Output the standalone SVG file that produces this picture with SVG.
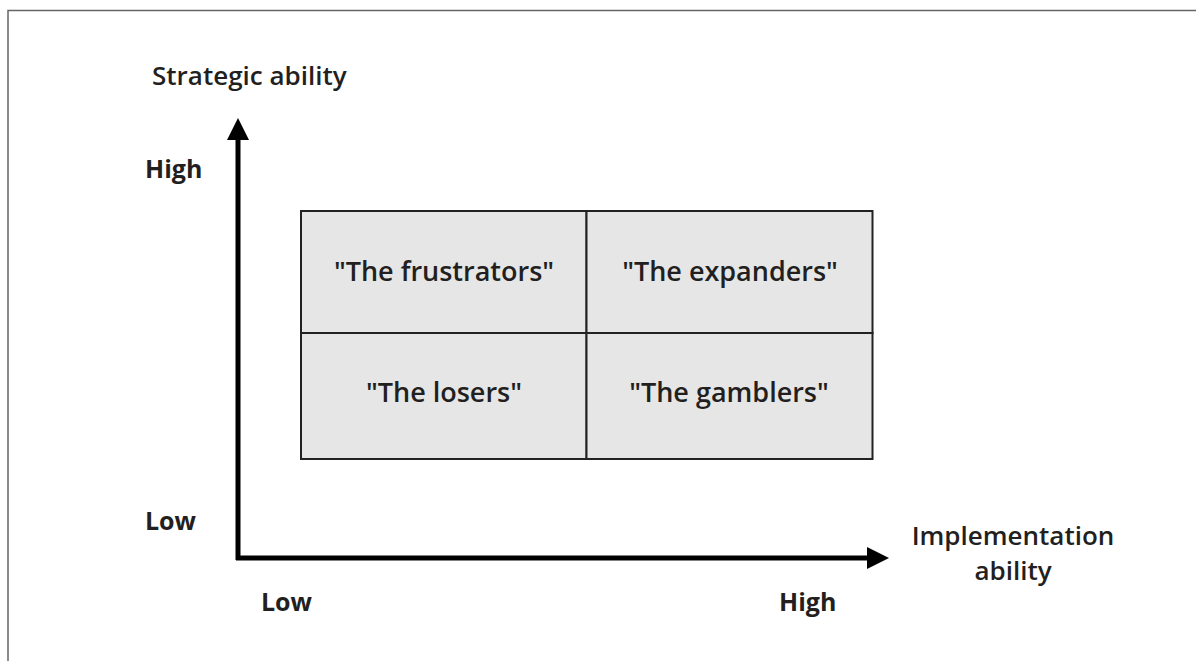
<svg xmlns="http://www.w3.org/2000/svg" width="1196" height="661" viewBox="0 0 1196 661">
<style>
text{font-family:"Open Sans","Noto Sans",sans-serif;fill:#231f20;}
.lbl{font-size:26px;font-weight:600;}
.bold{font-size:25px;font-weight:bold;}
.q{font-size:27px;font-weight:600;text-anchor:middle;}
.cell{fill:#e6e6e6;stroke:#222;stroke-width:2;}
.axis{stroke:#000;stroke-width:5;fill:none;}
</style>
<defs>
<marker id="ah" viewBox="0 0 22 22" refX="0" refY="11" markerWidth="22" markerHeight="22" markerUnits="userSpaceOnUse" orient="auto">
<path d="M0,0 L22,11 L0,22 Z" fill="#000"/>
</marker>
</defs>
<rect width="1196" height="661" fill="#fff"/>
<path d="M8,661 V10.5 H1196" fill="none" stroke="#666" stroke-width="1.5"/>
<g id="connectors">
<path class="axis" d="M238,560 V140" marker-end="url(#ah)"/>
<path class="axis" d="M236,558 H867" marker-end="url(#ah)"/>
</g>
<g id="q-frustrators"><rect class="cell" x="301" y="211" width="285.5" height="122"/><text class="q" x="444" y="281">"The frustrators"</text></g>
<g id="q-expanders"><rect class="cell" x="586.5" y="211" width="286" height="122"/><text class="q" x="730" y="281">"The expanders"</text></g>
<g id="q-losers"><rect class="cell" x="301" y="333" width="285.5" height="126"/><text class="q" x="444" y="402">"The losers"</text></g>
<g id="q-gamblers"><rect class="cell" x="586.5" y="333" width="286" height="126"/><text class="q" x="729" y="402">"The gamblers"</text></g>
<g id="labels">
<text class="lbl" x="152" y="85">Strategic ability</text>
<text class="bold" x="145" y="178">High</text>
<text class="bold" x="145" y="530">Low</text>
<text class="bold" x="261" y="611">Low</text>
<text class="bold" x="779" y="611">High</text>
<text class="lbl" x="1013" y="545" text-anchor="middle">Implementation</text>
<text class="lbl" x="1013" y="580" text-anchor="middle">ability</text>
</g>
</svg>
